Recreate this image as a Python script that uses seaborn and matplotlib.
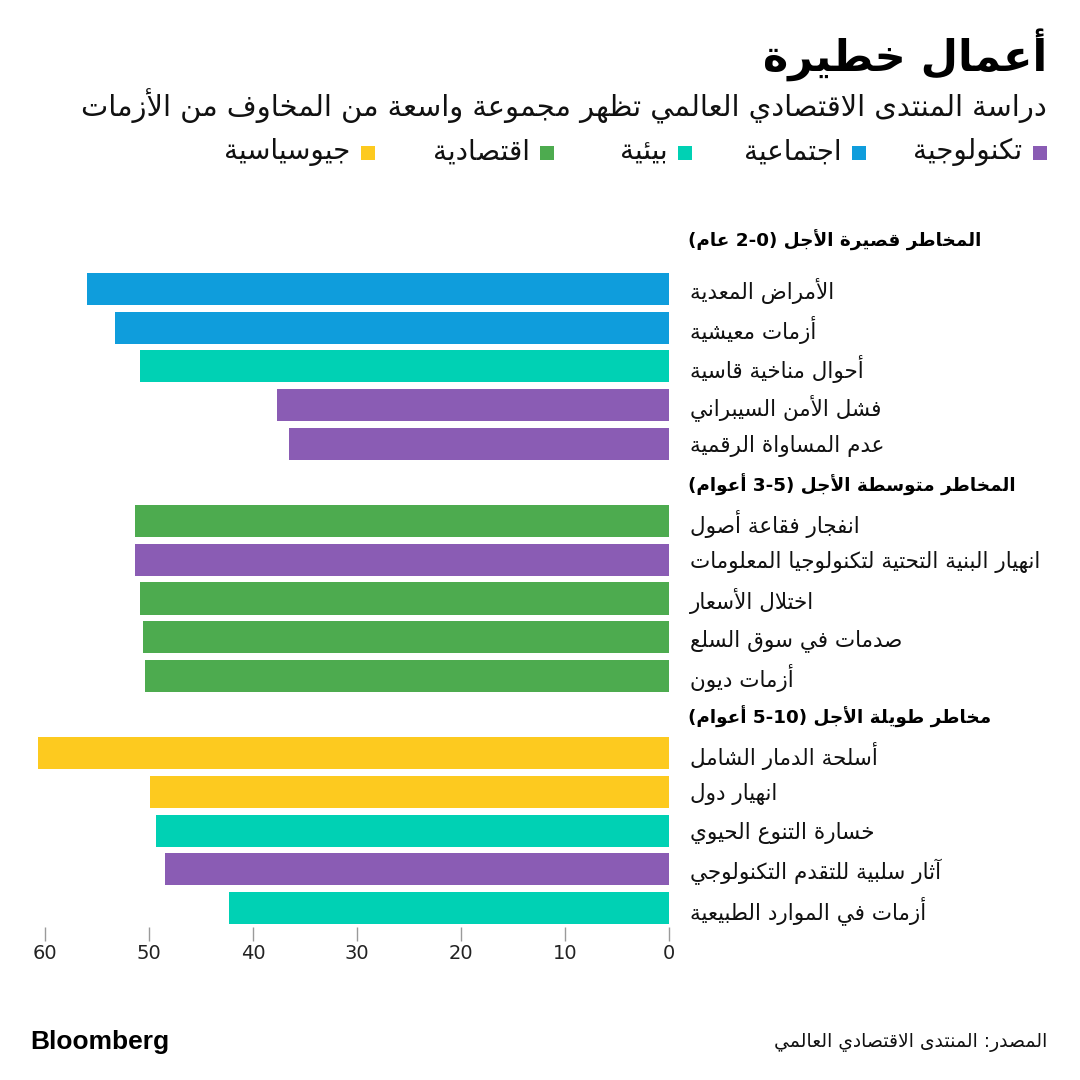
import re
import numpy as np
import pandas as pd
import matplotlib
matplotlib.use("Agg")
import matplotlib.pyplot as plt
import matplotlib.transforms as mtransforms
import seaborn as sns
from matplotlib.patches import Rectangle

# ---------------- data ----------------
title = "أعمال خطيرة"
subtitle = "دراسة المنتدى الاقتصادي العالمي تظهر مجموعة واسعة من المخاوف من الأزمات"
source = "المصدر: المنتدى الاقتصادي العالمي"

legend_names = ["تكنولوجية", "اجتماعية", "بيئية", "اقتصادية", "جيوسياسية"]
legend_keys = ["tech", "social", "env", "econ", "geo"]

header_short = "المخاطر قصيرة الأجل (2-0 عام)"
header_medium = "المخاطر متوسطة الأجل (3-5 أعوام)"
header_long = "مخاطر طويلة الأجل (5-10 أعوام)"

short_labels = ["الأمراض المعدية", "أزمات معيشية", "أحوال مناخية قاسية",
                "فشل الأمن السيبراني", "عدم المساواة الرقمية"]
short_values = [56.0, 53.3, 50.9, 37.7, 36.5]
short_groups = ["social", "social", "env", "tech", "tech"]

medium_labels = ["انفجار فقاعة أصول", "انهيار البنية التحتية لتكنولوجيا المعلومات",
                 "اختلال الأسعار", "صدمات في سوق السلع", "أزمات ديون"]
medium_values = [51.3, 51.3, 50.9, 50.6, 50.4]
medium_groups = ["econ", "tech", "econ", "econ", "econ"]

long_labels = ["أسلحة الدمار الشامل", "انهيار دول", "خسارة التنوع الحيوي",
               "آثار سلبية للتقدم التكنولوجي", "أزمات في الموارد الطبيعية"]
long_values = [60.7, 49.9, 49.3, 48.5, 42.3]
long_groups = ["geo", "geo", "env", "tech", "env"]

x_ticks = [0, 10, 20, 30, 40, 50, 60]

palette = {"tech": "#8a5cb4", "social": "#0f9ddc", "env": "#00d1b4",
           "econ": "#4dab4f", "geo": "#fdca1f"}

# ---------------- minimal Arabic shaping + bidi ----------------
_DUAL = {'ئ': 0xFE89, 'ب': 0xFE8F, 'ت': 0xFE95, 'ث': 0xFE99, 'ج': 0xFE9D, 'ح': 0xFEA1,
         'خ': 0xFEA5, 'س': 0xFEB1, 'ش': 0xFEB5, 'ص': 0xFEB9, 'ض': 0xFEBD, 'ط': 0xFEC1,
         'ظ': 0xFEC5, 'ع': 0xFEC9, 'غ': 0xFECD, 'ف': 0xFED1, 'ق': 0xFED5, 'ك': 0xFED9,
         'ل': 0xFEDD, 'م': 0xFEE1, 'ن': 0xFEE5, 'ه': 0xFEE9, 'ي': 0xFEF1}
_RIGHT = {'آ': 0xFE81, 'أ': 0xFE83, 'ؤ': 0xFE85, 'إ': 0xFE87, 'ا': 0xFE8D, 'ة': 0xFE93,
          'د': 0xFEA9, 'ذ': 0xFEAB, 'ر': 0xFEAD, 'ز': 0xFEAF, 'و': 0xFEED, 'ى': 0xFEEF}
_NONE = {'ء': 0xFE80}
_LAMALEF = {'آ': 0xFEF5, 'أ': 0xFEF7, 'إ': 0xFEF9, 'ا': 0xFEFB}


def _shape(s):
    toks = []
    i = 0
    while i < len(s):
        c = s[i]
        if c == 'ل' and i + 1 < len(s) and s[i + 1] in _LAMALEF:
            toks.append(('R', _LAMALEF[s[i + 1]]))
            i += 2
            continue
        if c in _DUAL:
            toks.append(('D', _DUAL[c]))
        elif c in _RIGHT:
            toks.append(('R', _RIGHT[c]))
        elif c in _NONE:
            toks.append(('N', _NONE[c]))
        else:
            toks.append(('X', c))
        i += 1
    out = []
    for k, (kind, b) in enumerate(toks):
        if kind == 'X':
            out.append(b)
            continue
        prev = toks[k - 1][0] if k > 0 else 'X'
        nxt = toks[k + 1][0] if k + 1 < len(toks) else 'X'
        jp = prev == 'D' and kind in 'DR'
        jn = kind == 'D' and nxt in 'DR'
        if kind == 'N':
            out.append(chr(b))
        elif kind == 'R':
            out.append(chr(b + 1 if jp else b))
        else:
            if jp and jn:
                out.append(chr(b + 3))
            elif jp:
                out.append(chr(b + 1))
            elif jn:
                out.append(chr(b + 2))
            else:
                out.append(chr(b))
    return ''.join(out)


_LTR = re.compile(r'[0-9A-Za-z]+(?:[-.,:/][0-9A-Za-z]+)*')
_MIRROR = {'(': ')', ')': '('}


def ar(s):
    s = _shape(s)
    parts, pos = [], 0
    for m in _LTR.finditer(s):
        if m.start() > pos:
            parts.append(('R', s[pos:m.start()]))
        parts.append(('L', m.group()))
        pos = m.end()
    if pos < len(s):
        parts.append(('R', s[pos:]))
    out = []
    for kind, t in reversed(parts):
        if kind == 'L':
            out.append(t)
        else:
            out.append(''.join(_MIRROR.get(ch, ch) for ch in reversed(t)))
    return ''.join(out)


# ---------------- build table ----------------
df = pd.DataFrame({
    "label": short_labels + medium_labels + long_labels,
    "value": short_values + medium_values + long_values,
    "group": short_groups + medium_groups + long_groups,
})
order = [header_short] + short_labels + [header_medium] + medium_labels + [header_long] + long_labels
headers = {header_short, header_medium, header_long}

# ---------------- plot ----------------
sns.set_theme(style="white")
plt.rcParams["font.family"] = ["DejaVu Sans"]

fig = plt.figure(figsize=(10.8, 10.8), dpi=100)
fig.patch.set_facecolor("white")

px_per_unit = 10.4
x0_px = 669
xmax = 63
left_px = x0_px - xmax * px_per_unit
row_px = (908 - 289) / 16.0
top_px = 289 - 1.5 * row_px
bot_px = 908 + 0.5 * row_px
ax = fig.add_axes([left_px / 1080, 1 - bot_px / 1080,
                   (x0_px - left_px) / 1080, (bot_px - top_px) / 1080])

sns.barplot(data=df, y="label", x="value", hue="group", order=order,
            palette=palette, dodge=False, width=0.83, orient="h",
            legend=False, ax=ax, saturation=1, linewidth=0)

ax.set_xlim(xmax, 0)
ax.set_ylim(len(order) - 0.5, -0.5)
for s in ax.spines.values():
    s.set_visible(False)
ax.set_xlabel("")
ax.set_ylabel("")
ax.grid(False)

# y labels on right
ax.yaxis.tick_right()
ax.set_yticks(range(len(order)))
ax.set_yticklabels([ar(l) for l in order])
ax.tick_params(axis="y", length=0, pad=15, labelsize=15.5, labelcolor="#111111")
for i, (t, l) in enumerate(zip(ax.get_yticklabels(), order)):
    if l in headers:
        t.set_fontweight("bold")
        t.set_fontsize(13.2)
        t.set_color("#000000")
        if i == 0:
            t.set_transform(t.get_transform() +
                            mtransforms.ScaledTranslation(-2 / 100, 12 / 100, fig.dpi_scale_trans))
        else:
            t.set_transform(t.get_transform() +
                            mtransforms.ScaledTranslation(-2 / 100, 0, fig.dpi_scale_trans))

# x ticks
ax.set_xticks(x_ticks)
ax.set_xticklabels([str(v) for v in x_ticks])
ax.tick_params(axis="x", bottom=True, length=10, width=1, color="#9a9a9a",
               pad=2, labelsize=14, labelcolor="#222222")
ax.xaxis.get_major_ticks()[0].tick1line.set_color("#000000")

# ---------------- titles ----------------
fig.text(1047 / 1080, 1 - 55 / 1080, ar(title), ha="right", va="center",
         fontsize=31, fontweight="bold", color="#000000")
fig.text(1047 / 1080, 1 - 106 / 1080, ar(subtitle), ha="right", va="center",
         fontsize=20.8, color="#111111")

# ---------------- legend ----------------
sq_left = [1033, 852, 678, 540, 361]
txt_right = [1022, 842, 668, 530, 350]
sq = 14
for key, name, sx, tx in zip(legend_keys, legend_names, sq_left, txt_right):
    fig.patches.append(Rectangle((sx / 1080, 1 - (153 + sq / 2) / 1080), sq / 1080, sq / 1080,
                                 transform=fig.transFigure, facecolor=palette[key],
                                 edgecolor="none"))
    fig.text(tx / 1080, 1 - 152 / 1080, ar(name), ha="right", va="center",
             fontsize=20, color="#111111")

# ---------------- footer ----------------
fig.text(30 / 1080, 1 - 1042 / 1080, "Bloomberg", ha="left", va="center",
         fontsize=19, fontweight="bold", color="#000000", family=["Liberation Sans", "DejaVu Sans"])
fig.text(1047 / 1080, 1 - 1042 / 1080, ar(source), ha="right", va="center",
         fontsize=13.5, color="#111111")

fig.savefig("out.png", dpi=100, facecolor="white")
